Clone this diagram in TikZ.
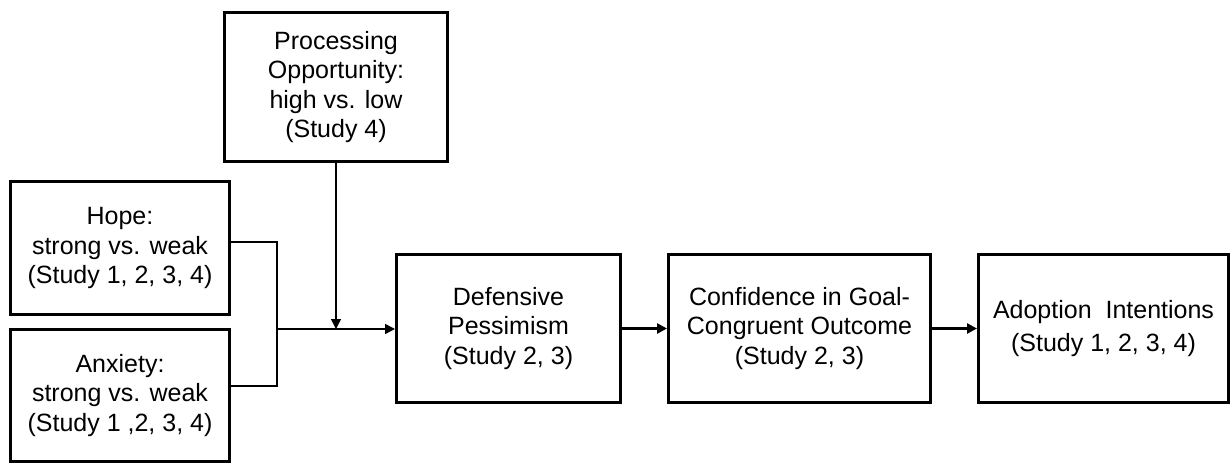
\documentclass[tikz,border=0pt]{standalone}
\usepackage{fontspec}
\setmainfont{Liberation Sans}
\usetikzlibrary{arrows.meta}

\begin{document}
\begin{tikzpicture}[x=0.5pt, y=-0.5pt,
    box/.style={draw, line width=1.5pt, align=center, inner sep=0pt,
      font=\fontsize{12.5}{14.75}\selectfont},
    link/.style={line width=0.75pt},
    tip/.style={-{Triangle[length=5pt, width=5pt]}},
    flow/.style={line width=1.3pt, tip}]
    \useasboundingbox (0, 0) rectangle (1232, 465);

    \node[box, minimum width=111.5pt, minimum height=74.5pt] (proc) at (336, 87) {Processing\\Opportunity:\\high vs. low\\(Study 4)};
    \node[box, minimum width=109.5pt, minimum height=66.5pt] (hope) at (120, 248) {Hope:\\strong vs. weak\\(Study 1, 2, 3, 4)};
    \node[box, minimum width=109.5pt, minimum height=66pt] (anx) at (120, 395.5) {Anxiety:\\strong vs. weak\\(Study 1 ,2, 3, 4)};
    \node[box, minimum width=112pt, minimum height=74pt] (def) at (508.5, 328.5) {Defensive\\Pessimism\\(Study 2, 3)};
    \node[box, minimum width=131pt, minimum height=74pt] (conf) at (799.5, 328.5) {Confidence in Goal-\\Congruent Outcome\\(Study 2, 3)};
    \node[box, minimum width=125pt, minimum height=74pt, font=\fontsize{12.5}{16.5}\selectfont] (adopt) at (1103.5, 328.5) {Adoption~~Intentions\\(Study 1, 2, 3, 4)};

    \coordinate (join) at (277, 329);
    \coordinate (mod) at (proc.south |- join);

    \draw[link] ([yshift=3pt]hope.east) -| (join) |- ([yshift=4.75pt]anx.east);
    \draw[link, tip] (join) -- (join -| def.west);
    \draw[link, tip] (proc.south) -- (mod);
    \draw[flow] (def) -- (conf);
    \draw[flow] (conf) -- (adopt);
  \end{tikzpicture}
\end{document}
